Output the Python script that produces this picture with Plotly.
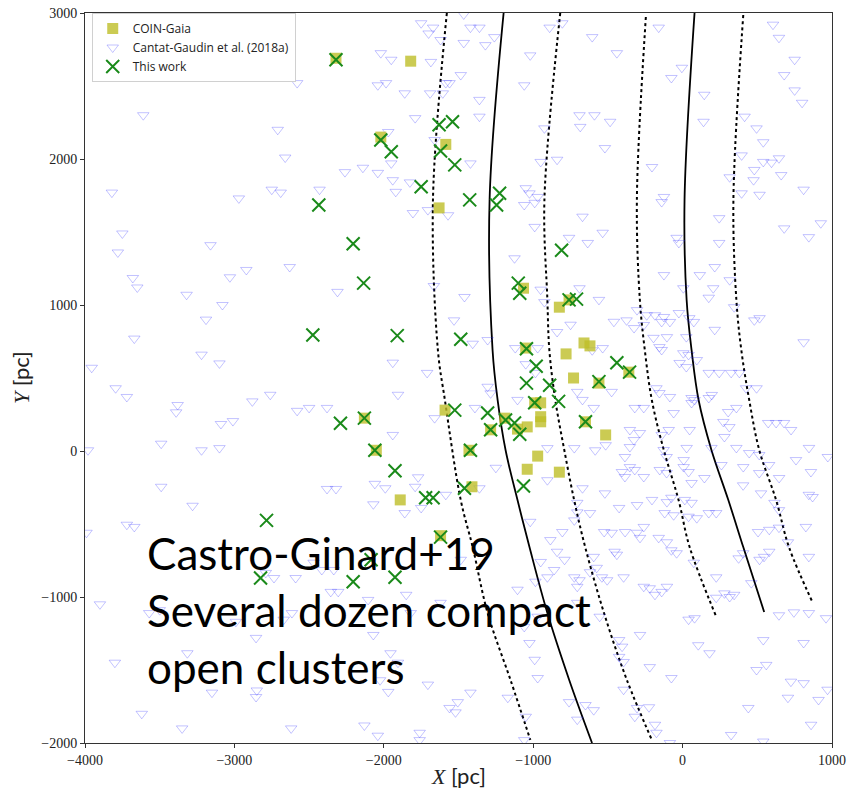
import plotly.graph_objects as go

# ---------------- data ----------------
coin_x = [-2320, -1820, -2020, -1585, -1630, -1065, -825, -760, -660, -620, -780, -1050, -730, -360,
          -560, -990, -950, -950, -950, -1040, -1190, -1285, -1590, -1430, -515, -650, -970, -1040,
          -825, -1410, -1890, -2130, -2050, -1620, -1105]
coin_y = [2690, 2670, 2150, 2100, 1665, 1115, 985, 1035, 740, 720, 665, 705, 500, 540,
          465, 330, 330, 235, 200, 165, 225, 145, 280, 5, 110, 200, -35, -125,
          -145, -245, -335, 225, 5, -580, 150]

this_x = [-2320, -2020, -1950, -1620, -1630, -1540, -1525, -1750, -1425, -1225, -1245, -2435, -2205,
          -2135, -810, -1100, -1090, -760, -710, -2475, -1910, -1485, -1045, -980, -1045, -890, -440,
          -355, -560, -990, -830, -1525, -1305, -1185, -1125, -1285, -1090, -650, -2290, -2130, -2060,
          -1420, -1925, -1460, -1065, -1720, -1670, -2785, -1620, -2825, -2205, -2085, -1925]
this_y = [2680, 2130, 2050, 2055, 2235, 2255, 1960, 1810, 1720, 1765, 1685, 1685, 1420,
          1150, 1375, 1150, 1080, 1035, 1040, 795, 790, 765, 700, 580, 465, 450, 605,
          540, 475, 330, 340, 280, 260, 212, 192, 145, 115, 200, 190, 225, 5,
          5, -135, -255, -240, -320, -320, -475, -590, -870, -895, -745, -865]

cg_x = [
    # top-left
    -3480, -3610, -2710, -2580,
    # left / middle-left
    -3955, -3820, -3750, -3780, -3795, -3720, -3680, -3650, -3670, -3320, -3190, -3080, -3160,
    -2970, -2750, -2690, -2660, -3030, -2920, -2630, -2310, -2430, -3220, -3100, -3380, -3390,
    -3490, -3220, -3100, -3090, -3010, -2880, -2760, -2580, -2500, -2380, -3490, -3280, -3720,
    -3670, -2380, -2320, -2060, -2070, -2260, -2140, -3990, -3980,
    # top-middle / top-right
    -1750, -1670, -1700, -1465, -1420, -1360, -1260, -1320, -1465, -1620, -2020, -1950, -1685,
    -1485, -1585, -1560, -1605, -1690, -1860, -1985, -2040, -1360, -1790, -1360, -1970, -1660,
    -1420, -1950, -1940, -1825, -2040, -1920, -890, -805, -605, -1020, -440, -1060, -690, -590,
    -685, -485, -925, -520, -950, -840, -1050, -1025, -970, -205, -160, -75, -5, 145, 140, 605,
    645, 750, 680, 750, 800, 415, 495, 540, 395, 540, 595, 645, 480, 660, 315, 475, 395, 515,
    810, -125,
    # middle
    -1805, -1705, -1570, -1060, -990, -670, -990, -535, -760, -635, -1125, -950, -925, -1460,
    -1665, -560, -690, -460, -750, -840, -1530, -1405, -1305, -1120, -970, -1940, -1710, -1050,
    -985, -1305, -1285, -1905, -1660, -1390, -1105, -705, -670, -595, -475, -605, -535, -905,
    -725, -585, -515, -1940, -1770, -1250, -905,
    -140, 245, 680, 845, 925, 245, -40, -25, -125, 115, 215, 315, 205, 175, 345, 480, 515, 5,
    -305, -240, -185, -125, -375, -325, -260, -140, -85, -25, 45, 75, 215, 810, -195, -105, 25,
    -155, -140, 5, 40, -20, 25, 95, 175, 245, 325, 380, 425, 495, -175, -155, -85, 60, 80, 175,
    195, -320, -260, -60, 60, 305, 360, 273, 313, 573, 626, 679, 726, 280, 47, -93, -140, -353,
    -286, -326, -353, -386, -127, -107, 27, 7, 193, 360, 446, 513, 759, 846, 972, -353, -320,
    -260, -406, -386, -153, -107, 7, 40, 60, 146, 260, 406, 513, 579, 646, 859,
    # lower right
    -1990, -1790, -1860, -1750, -1585, -1360, -1020, -885, -805, -725, -705, -670, -705, -620,
    -520, -425, -305, -205, -105, -75, 15, 60, -120, -60, 40, 95, 175, 225, 405, 525, 615, 645,
    845, 870, 505, 580, 645, 825, 705, -525, -475, -385, -305, -285, -260, -160, -105, -75, -40,
    -455, -440, -595, -840, -790, -860, -950, -905, -985, -725, -690, -705, -620, -575, -540,
    -505, -395, -260, -220, -185, -140, -105, 75, 225, 40, 80, 105, 180, 225, 280, 315, 345,
    375, 405, 460, 515, 545, 580, 645, 745, 845, 960, 845, 540, 810, 495, 560, 725, 810, 705,
    910, 970, 440, 860, 325, 540, -285, -425, -405, -425, -395, -220, -75, -395, -305, -320,
    -225, -185, -175, -85, -650, -595, -705, -990, -970, -1025, -1170, -1050, -760, -1060,
    -1560, -1520, -1505, -1760, -1705, -1955, -1905, -2025, -1970, -1105, -1060, -970,
    -1850, -1820, -1620, -1485, -1420, -555, -705,
    # lower left
    -3500, -3570, -3315, -3150, -2855, -2855, -2990, -2790, -2735, -2670, -2615, -2590, -2355,
    -2305, -2470, -2415, -2335, -2105, -2070,
    -3900, -3800, -3620, -3350, -2850, -2620, -2130, -2040, -1760,
]
cg_y = [
    2990, 2300, 2200, 2520,
    570, 1770, 1490, 1360, 430, 370, 1185, 1120, 770, 1070, 900, 1000, 1410,
    1730, 1790, 1770, 2010, 1190, 1240, 1260, 1090, 1790, 660, 600, 315, 265,
    50, 5, 20, 185, 205, 340, 385, 275, 295, 295, -245, -375, -505,
    -520, -260, -260, -225, -365, 1910, 1940, -560, 5,
    2930, 2900, 2860, 2990, 2900, 2900, 2835, 2780, 2795, 2815, 2725, 2680, 2665,
    2575, 2520, 2520, 2450, 2450, 2450, 2520, 2505, 2405, 2280, 2290, 2185, 2130,
    1970, 1970, 1855, 1840, 1905, 1775, 2900, 2930, 2835, 2710, 2725, 2505, 2300, 2300,
    2220, 2255, 2210, 2075, 1980, 1995, 1800, 1765, 1740, 1945, 2900, 2555, 2625, 2440, 2255, 2920,
    2830, 2680, 2575, 2470, 2385, 2290, 2210, 2115, 2025, 1980, 1975, 2005, 1925, 1890, 1875, 1855, 1765, 1755,
    1790, 1740,
    1630, 1650, 1615, 1685, 1700, 1605, 1535, 1495, 1460, 1425, 1320, 1105, 1020, 1055,
    1130, 1035, 1115, 885, 865, 815, 895, 735, 760, 705, 705, 605, 535, 595,
    535, 440, 395, 385, 225, 295, 350, 405, 350, 295, 405, 690, 705, 20,
    20, 5, 40, 110, -180, -115, -200,
    1705, 1595, 1525, 1465, 1560, 1425, 1460, 1425, 1205, 1205, 1260, 1170, 1115, 1050, 985, 895, 910, 1115,
    965, 930, 930, 918, 895, 842, 863, 884, 884, 945, 910, 884, 830, 745, 775, 780, 780,
    712, 692, 670, 658, 603, 575, 623, 535, 535, 535, 535, 430, 430, 430, 397, 370, 363, 349, 363,
    384, 295, 295, 260, 329, 267, 295, 199, 164, 192, 192, 192, 144, 96, 144, 144, 110, 144,
    123, 75, 27, -41, 7, -41, 21, -62, 21, 21, -14, -27, -62, 21, -41, -110, -130,
    -178, -144, -178, -130, -151, -110, -144, -219, -185, -96, -110, -151, -96, -185, -144,
    -255, -245, -425, -390, -300, -255, -485, -610, -555, -475, -420, -255, -355, -425,
    -290, -390, -370, -335, -350, -320, -335, -355, -425, -440, -450, -460, -425, -425, -235, -290, -355, -405,
    -300, -315, -555, -540, -525, -520, -625, -555, -560, -555, -560, -595, -520, -595, -625, -680, -700,
    -690, -710, -725, -690, -745, -815, -760, -865, -895, -865, -885, -930, -830, -800, -865,
    -885, -865, -930, -940, -985, -965, -930, -765, -865, -1155, -1145, -1330, -1385, -1005, -975, -1000, -985,
    -735, -700, -905, -745, -725, -690, -1125, -1105, -1110, -1145, -725, -1295, -1315, -1500, -1465, -1580, -1590, -1690,
    -1705, -1635, -1760, -1875, -1945, -1990, -1260, -1295, -1340, -1410, -1445, -1480, -1555, -1635, -1760, -1820,
    -1755, -1875, -1930, -2000, -1740, -1775, -1840, -1430, -1555, -1315, -1690, -1820, -1720, -1980,
    -1760, -1790, -1720, -1930, -1600, -1385, -1450, -1570, -1650, -950, -1205, -1135,
    -985, -1110, -1040, -745, -1655, -1135, -1040,
    -1090, -1110, -1385, -1655, -1280, -1685, -1170, -835, -870, -1155, -1110, -870, -965,
    -965, -765, -815, -815, -1020, -1260,
    -1050, -1450, -1800, -1900, -1640, -1900, -1880, -1950, -1980,
]

# spiral-arm tracks (solid = arm centres, dotted = arm widths)
armA_x = [-1578, -1671, -1638, -1591, -1485, -1405, -1305, -1152, -1019]
armA_y = [3000, 1719, 692, 349, -336, -658, -1110, -1568, -1979]
armB_x = [-1198, -1292, -1272, -1238, -1185, -1105, -1025, -905, -759, -606]
armB_y = [3000, 1719, 692, 349, 7, -336, -658, -1110, -1568, -2000]
armC_x = [-819, -925, -905, -892, -852, -792, -726, -652, -526, -373, -206]
armC_y = [3000, 1719, 1034, 692, 349, 7, -336, -658, -1110, -1568, -1979]
armD_x = [-246, -306, -286, -253, -206, -126, -27, 47, 226]
armD_y = [2973, 1719, 1034, 692, 349, 7, -336, -658, -1137]
armE_x = [80, 13, 27, 60, 107, 193, 306, 406, 546]
armE_y = [3000, 1719, 1034, 692, 349, 7, -336, -658, -1103]
armF_x = [406, 340, 360, 393, 446, 513, 626, 712, 872]
armF_y = [2986, 1719, 1034, 692, 349, 7, -336, -658, -1041]

x_ticks = [-4000, -3000, -2000, -1000, 0, 1000]
y_ticks = [-2000, -1000, 0, 1000, 2000, 3000]

# ---------------- figure ----------------
fig = go.Figure()

arms = [(armA_x, armA_y, "dot"), (armB_x, armB_y, "solid"), (armC_x, armC_y, "dot"),
        (armD_x, armD_y, "dot"), (armE_x, armE_y, "solid"), (armF_x, armF_y, "dot")]
for ax, ay, dash in arms:
    fig.add_trace(go.Scatter(x=ax, y=ay, mode="lines", line=dict(color="black", width=2 if dash == "dot" else 1.8,
                             dash=dash, shape="spline"), showlegend=False, hoverinfo="skip"))

fig.add_trace(go.Scatter(x=cg_x, y=cg_y, mode="markers", name="Cantat-Gaudin et al. (2018a)", legendrank=2,
                         marker=dict(symbol="triangle-down-open", size=10, color="rgba(40,40,255,0.28)",
                                     line=dict(width=1, color="rgba(40,40,255,0.28)"))))
fig.add_trace(go.Scatter(x=coin_x, y=coin_y, mode="markers", name="COIN-Gaia", legendrank=1,
                         marker=dict(symbol="square", size=11, color="rgba(190,190,40,0.8)", line=dict(width=0))))
fig.add_trace(go.Scatter(x=this_x, y=this_y, mode="markers", name="This work", legendrank=3,
                         marker=dict(symbol="x-thin", size=13, color="#1a8a1a", line=dict(width=2, color="#1a8a1a"))))

axis_common = dict(showgrid=False, zeroline=False, showline=True, mirror=True, linecolor="#333", linewidth=1,
                   ticks="outside", ticklen=4, tickcolor="#333", ticklabeloverflow="allow", automargin=False,
                   tickfont=dict(family="Liberation Serif", size=14, color="#222"))
fig.update_xaxes(range=[-4000, 1000], tickvals=x_ticks, **axis_common)
fig.update_yaxes(range=[-2000, 3000], tickvals=y_ticks, **axis_common)

fig.update_layout(
    width=848, height=796, margin=dict(l=85, r=16, t=13, b=53),
    plot_bgcolor="white", paper_bgcolor="white",
    legend=dict(x=0.009, y=1.0, xanchor="left", yanchor="top", bgcolor="white", bordercolor="#d0d0d0",
                borderwidth=1, font=dict(family="Open Sans", size=12, color="#222"), itemwidth=30,
                tracegroupgap=0),
    annotations=[
        dict(text="<i>X</i> <span style='font-family:Lato'>[pc]</span>", xref="paper", yref="paper",
             x=0.5, y=-0.044, xanchor="center", yanchor="middle", showarrow=False,
             font=dict(family="Liberation Serif", size=22, color="#222")),
        dict(text="<i>Y</i> <span style='font-family:Lato'>[pc]</span>", xref="paper", yref="paper",
             x=-0.087, y=0.5, xanchor="center", yanchor="middle", showarrow=False, textangle=-90,
             font=dict(family="Liberation Serif", size=22, color="#222")),
        dict(text="Castro-Ginard+19<br>Several dozen compact<br>open clusters", xref="paper", yref="paper",
             x=0.08, y=0.182, xanchor="left", yanchor="middle", align="left", showarrow=False,
             font=dict(family="Lato", size=44, color="black")),
    ],
)

fig.write_html("out.html")
